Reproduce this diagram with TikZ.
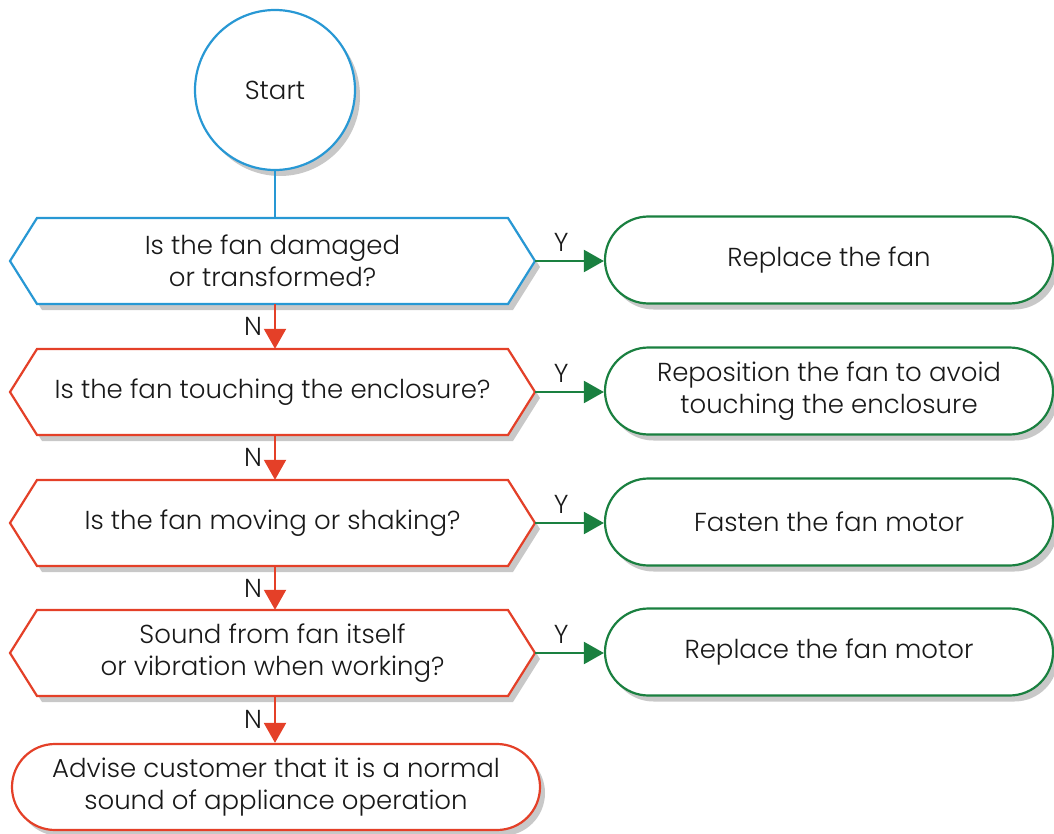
\documentclass[tikz,border=0pt]{standalone}
\usepackage{fontspec}
\setmainfont{Poppins}[UprightFont=* Light]
\usetikzlibrary{shapes.misc,shadows,arrows.meta,calc}
\definecolor{cblue}{RGB}{40,152,212}
\definecolor{cred}{RGB}{228,64,40}
\definecolor{cgreen}{RGB}{26,128,64}
\definecolor{cshadow}{RGB}{200,200,200}
\definecolor{ctext}{RGB}{25,25,25}
\tikzset{
  txt/.style={font=\fontsize{26}{32}\selectfont, align=center, text=ctext},
  shad/.style={drop shadow={shadow xshift=5pt,shadow yshift=-6pt,fill=cshadow,opacity=1}},
  termbox/.style={txt, rounded rectangle, fill=white, shad, line width=2.2pt, inner sep=0pt},
  hexbox/.style={txt, minimum width=525pt, minimum height=86pt, inner sep=0pt},
  ln/.style={line width=2.2pt},
  tip/.style={-{Triangle[length=20pt,width=22pt]}},
  lbl/.style={txt, inner sep=0pt},
}
\newcommand\hexnode[5]{% name, cx, cy, colour, text
  \fill[cshadow] ({#2-262.5+5},{#3+6}) -- ({#2-235.5+5},{#3-43+6}) -- ({#2+235.5+5},{#3-43+6})
     -- ({#2+262.5+5},{#3+6}) -- ({#2+235.5+5},{#3+43+6}) -- ({#2-235.5+5},{#3+43+6}) -- cycle;
  \filldraw[fill=white,draw=#4,ln] ({#2-262.5},{#3}) -- ({#2-235.5},{#3-43}) -- ({#2+235.5},{#3-43})
     -- ({#2+262.5},{#3}) -- ({#2+235.5},{#3+43}) -- ({#2-235.5},{#3+43}) -- cycle;
  \node[hexbox] (#1) at (#2,#3) {#5};
}
\begin{document}
\begin{tikzpicture}[x=1pt,y=-1pt]
\useasboundingbox (0,0) rectangle (1054,834);

\node[txt, circle, draw=cblue, ln, fill=white, shad, minimum size=160pt, inner sep=0pt] (start) at (275,90) {Start};

\hexnode{h1}{272.5}{261}{cblue}{Is the fan damaged\\or transformed?}
\hexnode{h2}{272.5}{392}{cred}{Is the fan touching the enclosure?}
\hexnode{h3}{272.5}{523}{cred}{Is the fan moving or shaking?}
\hexnode{h4}{272.5}{653}{cred}{Sound from fan itself\\or vibration when working?}

\node[termbox, draw=cgreen, minimum width=448pt, minimum height=87pt] (g1) at (829,260) {Replace the fan};
\node[termbox, draw=cgreen, minimum width=448pt, minimum height=87pt] (g2) at (829,391) {Reposition the fan to avoid\\touching the enclosure};
\node[termbox, draw=cgreen, minimum width=448pt, minimum height=87pt] (g3) at (829,522) {Fasten the fan motor};
\node[termbox, draw=cgreen, minimum width=448pt, minimum height=87pt] (g4) at (829,652) {Replace the fan motor};

\node[termbox, draw=cred, minimum width=528pt, minimum height=86pt] (e) at (276,787) {Advise customer that it is a normal\\sound of appliance operation};

\draw[ln, cblue] (start.south) -- (start.south |- h1.north);

\draw[ln, cred, tip] (h1.south -| start.south) -- (h2.north -| start.south) node[lbl, midway, left=12pt] {N};
\draw[ln, cred, tip] (h2.south -| start.south) -- (h3.north -| start.south) node[lbl, midway, left=12pt] {N};
\draw[ln, cred, tip] (h3.south -| start.south) -- (h4.north -| start.south) node[lbl, midway, left=12pt] {N};
\draw[ln, cred, tip] (h4.south -| start.south) -- (e.north -| start.south) node[lbl, midway, left=12pt] {N};

\draw[ln, cgreen, tip] (h1.east) -- (g1.west |- h1.east) node[lbl, pos=0.38, above=8pt] {Y};
\draw[ln, cgreen, tip] (h2.east) -- (g2.west |- h2.east) node[lbl, pos=0.38, above=8pt] {Y};
\draw[ln, cgreen, tip] (h3.east) -- (g3.west |- h3.east) node[lbl, pos=0.38, above=8pt] {Y};
\draw[ln, cgreen, tip] (h4.east) -- (g4.west |- h4.east) node[lbl, pos=0.38, above=8pt] {Y};
\end{tikzpicture}
\end{document}
